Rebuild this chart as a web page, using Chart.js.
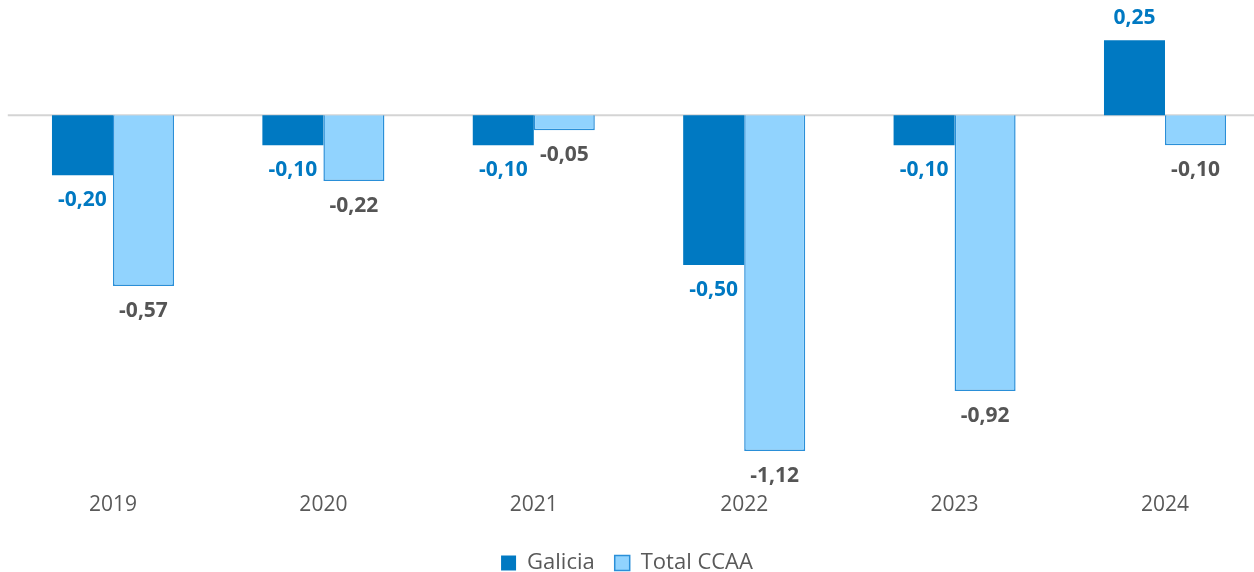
<!DOCTYPE html>
<html>
<head>
<meta charset="utf-8">
<script src="https://cdn.jsdelivr.net/npm/chart.js@4.4.1/dist/chart.umd.min.js"></script>
<style>
  html, body { margin: 0; padding: 0; background: #fff; }
  #wrap { width: 1254px; height: 572px; position: relative; }
</style>
</head>
<body>
<div id="wrap"><canvas id="chart"></canvas></div>
<script>
var years = ["2019", "2020", "2021", "2022", "2023", "2024"];
var galicia = [-0.20, -0.10, -0.10, -0.50, -0.10, 0.25];
var totalCCAA = [-0.57, -0.22, -0.05, -1.12, -0.92, -0.10];
var seriesNames = ["Galicia", "Total CCAA"];

var darkBlue = "#0079C2";
var lightBlue = "#91D3FE";
var lightBorder = "#2A8FD8";

function toPoints(values) {
  return values.map(function (v, i) { return { x: i, y: v }; });
}

function fmt(v) {
  return v.toFixed(2).replace(".", ",");
}

// zero line + value labels
var labelsPlugin = {
  id: "valueLabels",
  beforeDatasetsDraw: function (chart) {
    var ctx = chart.ctx;
    var y0 = chart.scales.y.getPixelForValue(0);
    var xStart = chart.scales.x.getPixelForValue(-0.5);
    ctx.save();
    ctx.strokeStyle = "#D4D4D4";
    ctx.lineWidth = 2;
    ctx.beginPath();
    ctx.moveTo(xStart, y0);
    ctx.lineTo(chart.chartArea.right, y0);
    ctx.stroke();
    ctx.restore();
  },
  afterDatasetsDraw: function (chart) {
    var ctx = chart.ctx;
    var colors = [darkBlue, "#555555"];
    ctx.save();
    ctx.font = "bold 21px 'Open Sans'";
    ctx.textAlign = "center";
    ctx.textBaseline = "middle";
    chart.data.datasets.forEach(function (ds, di) {
      var meta = chart.getDatasetMeta(di);
      ctx.fillStyle = colors[di];
      meta.data.forEach(function (bar, i) {
        var v = ds.data[i].y;
        var ty = v < 0 ? bar.y + 25 : bar.y - 22;
        ctx.fillText(fmt(v), bar.x, ty);
      });
    });
    ctx.restore();
  }
};

var ctx = document.getElementById("chart").getContext("2d");
var myChart = new Chart(ctx, {
  type: "bar",
  data: {
    datasets: [
      {
        label: seriesNames[0],
        data: toPoints(galicia),
        backgroundColor: darkBlue,
        borderColor: darkBlue,
        borderWidth: 0,
        categoryPercentage: 0.58,
        barPercentage: 1.0,
      },
      {
        label: seriesNames[1],
        data: toPoints(totalCCAA),
        backgroundColor: lightBlue,
        borderColor: lightBorder,
        borderWidth: 1.5,
        categoryPercentage: 0.58,
        barPercentage: 1.0,
      },
    ],
  },
  options: {
    responsive: true,
    maintainAspectRatio: false,
    animation: false,
    layout: { padding: { top: 0, left: 0, right: 0, bottom: -12 } },
    scales: {
      x: {
        type: "linear",
        offset: false,
        min: -0.537,
        max: 5.423,
        grid: { display: false },
        border: { display: false },
        afterFit: function (scale) {
          scale.height += 6;
        },
        ticks: {
          stepSize: 1,
          includeBounds: false,
          autoSkip: false,
          maxRotation: 0,
          padding: 8,
          color: "#595959",
          font: { family: "'Open Sans'", size: 21 },
          callback: function (v) {
            return Number.isInteger(v) ? years[v] : "";
          },
        },
      },
      y: {
        display: false,
        min: -1.206,
        max: 0.384,
      },
    },
    plugins: {
      legend: {
        position: "bottom",
        labels: {
          boxWidth: 15,
          boxHeight: 15,
          padding: 20,
          color: "#595959",
          font: { family: "'Open Sans'", size: 22 },
        },
      },
      tooltip: { enabled: false },
    },
  },
  plugins: [labelsPlugin],
});
</script>
</body>
</html>
